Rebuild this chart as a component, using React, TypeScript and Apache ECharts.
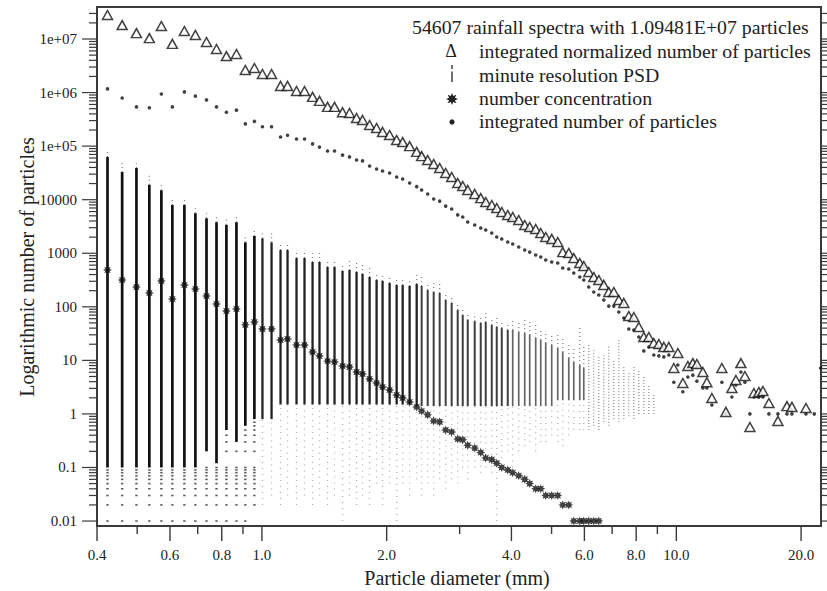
import React, { useEffect, useRef } from "react";
import * as echarts from "echarts";

// ---------- data ----------
const diameters = [
  0.424, 0.46, 0.498, 0.535, 0.572, 0.608, 0.65, 0.691, 0.735, 0.777,
  0.821, 0.868, 0.912, 0.959, 1.003, 1.055, 1.109, 1.153, 1.212, 1.267,
  1.325, 1.377, 1.44, 1.497, 1.565, 1.627, 1.692, 1.749, 1.819, 1.891,
  1.955, 2.033, 2.114, 2.186, 2.272, 2.363, 2.429, 2.512, 2.597, 2.685,
  2.776, 2.87, 2.968, 3.052, 3.138, 3.262, 3.373, 3.468, 3.586, 3.687,
  3.791, 3.919, 4.029, 4.166, 4.307, 4.428, 4.578, 4.708, 4.84, 5.004,
  5.174, 5.32, 5.501, 5.656, 5.848, 5.979, 6.148, 6.321, 6.5, 6.683,
  6.871, 7.065, 7.264, 7.469, 7.679, 7.896, 8.118, 8.347, 8.583, 8.824,
  9.073, 9.329, 9.592, 9.862, 10.084, 10.368, 10.661, 10.961, 11.208, 11.588,
  11.849, 12.183, 12.879, 13.169, 13.616, 13.922, 14.314, 14.636, 15.049, 15.388,
  15.821, 16.177, 16.726, 17.585, 18.488, 19.008, 20.548, 21.52, 22.3,
];

// triangles: integrated normalized number of particles
const integratedNormalized = [
  2.81e7, 1.82e7, 1.29e7, 1.04e7, 1.75e7, 8.1e6, 1.41e7, 1.19e7, 8.8e6, 6.5e6,
  4.8e6, 5.25e6, 2.64e6, 2.88e6, 2.22e6, 2.22e6, 1.33e6, 1.33e6, 1.07e6, 1.07e6,
  8.3e5, 7.0e5, 5.4e5, 5.4e5, 4.3e5, 4.16e5, 3.35e5, 3.08e5, 2.48e5, 2.18e5,
  1.84e5, 1.61e5, 1.3e5, 1.19e5, 1.0e5, 7.8e4, 6.5e4, 5.5e4, 4.64e4, 3.9e4,
  3.15e4, 2.65e4, 2.05e4, 1.8e4, 1.52e4, 1.28e4, 1.07e4, 9060, 7960, 7000,
  5890, 5180, 4750, 4180, 3370, 3090, 2840, 2390, 2010, 1850,
  1620, 1050, 1010, 815, 658, 578, 447, 360, 317, 256,
  189, 189, 134, 118, 67.3, 64.5, 42, 27.3, 27.3, 21.1,
  20.2, 17.8, 17.8, 7.2, 13.7, 3.78, 7.85, 8.9, 8.55, 6.07,
  3.9, 1.98, 7.2, 1.09, 3.05, 4.3, 8.9, 5.1, 0.57, 2.46,
  2.57, 2.68, 1.6, 0.74, 1.4, 1.35, 1.29, null, null,
];

// small dots: integrated number of particles
const integratedNumber = [
  1.17e6, 7.9e5, 5.4e5, 5.2e5, 9.4e5, 5.4e5, 1.03e6, 8.6e5, 7.3e5, 5.4e5,
  4.3e5, 4.7e5, 2.6e5, 2.9e5, 2.3e5, 2.3e5, 1.48e5, 1.6e5, 1.36e5, 1.36e5,
  1.1e5, 9.6e4, 8.1e4, 8.1e4, 6.8e4, 6.3e4, 5.5e4, 5.3e4, 4.26e4, 3.74e4,
  3.43e4, 3.15e4, 2.65e4, 2.43e4, 2.05e4, 1.75e4, 1.52e4, 1.28e4, 1.03e4, 9400,
  7600, 6700, 5200, 4750, 3830, 3370, 2960, 2720, 2390, 2010,
  1850, 1620, 1490, 1310, 1150, 1050, 927, 851, 748, 687,
  658, 530, 508, 428, 360, 316, 234, 189, 166, 134,
  103, 103, 80, 61.8, 38.5, 36.9, 27.3, 15, 17.8, 12.6,
  12.1, 11.6, 12.6, 3.9, 8.2, 2.6, 4.9, 5.3, 4.1, 3.05,
  3.05, 1.47, 3.9, 1, 2.07, 3.47, 6.07, 3.9, 1, 2.07,
  2.07, 2.07, 1, 1, 1, 1, 1, 1, 7.2,
];

// asterisks: number concentration
const numberConcentration = [
  487, 316, 234, 181, 303, 140, 255, 215, 159, 113,
  83.5, 91, 46, 52, 38.5, 38.5, 24, 25, 19.4, 19.4,
  14.3, 12.1, 9.7, 9.3, 7.85, 7.5, 6.07, 5.56, 4.49, 3.78,
  3.18, 2.8, 2.26, 1.98, 1.67, 1.35, 1.13, 0.96, 0.74, 0.71,
  0.5, 0.46, 0.34, 0.33, 0.26, 0.23, 0.19, 0.15, 0.14, 0.12,
  0.1, 0.09, 0.08, 0.07, 0.06, 0.05, 0.04, 0.04, 0.03, 0.03,
  0.03, 0.02, 0.02, 0.01, 0.01, 0.01, 0.01, 0.01, 0.01,
];

// minute resolution PSD: extent of the point clouds per size class
const psdMax = [
  8.8e4, 5.5e4, 4.8e4, 3.1e4, 1.9e4, 1.12e4, 1.07e4, 7000, 5600, 4750,
  4500, 5200, 2100, 2800, 2600, 2400, 1600, 1600, 1150, 1150,
  1000, 1050, 748, 748, 658, 748, 658, 603, 530, 447,
  428, 393, 360, 360, 345, 393, 360, 290, 278, 278,
  189, 166, 118, 95, 80, 77, 70, 77, 64.5, 61.8,
  56.7, 52, 56.7, 49.9, 64.5, 52, 45.7, 36.9, 33.9, 32.4,
  29.8, 26.2, 19.4, 17, 42, 17.8, 19.4, 15.6, 12.6, 12.6,
  19.4, 10.2, 24, 8.2, 6.07, 8.2, 6.6, 5.3, 3.47, 2.26,
];
const psdDenseTop = [
  6.3e4, 3.3e4, 3.9e4, 1.9e4, 1.5e4, 8000, 8000, 5600, 4500, 3800,
  3400, 3800, 1600, 2100, 1900, 1600, 1150, 1150, 815, 815,
  687, 687, 553, 553, 466, 487, 447, 410, 360, 316,
  303, 278, 255, 255, 245, 267, 245, 206, 189, 181,
  134, 118, 87, 70, 57, 54, 50, 52, 45.7, 42,
  40, 36.9, 36.9, 33.9, 32.4, 29.8, 26.2, 24, 21.1, 19.4,
  17, 14.3, 11.1, 9.3, 8.2, 7.2,
];
const psdDenseBottom = [
  0.1, 0.1, 0.1, 0.1, 0.1, 0.1, 0.1, 0.1, 0.2, 0.12,
  0.5, 0.3, 0.6, 0.8, 0.8, 0.8, 1.5, 1.5, 1.5, 1.5,
  1.5, 1.5, 1.5, 1.5, 1.5, 1.5, 1.5, 1.5, 1.5, 1.5,
  1.5, 1.5, 1.5, 1.5, 1.5, 1.4, 1.4, 1.4, 1.4, 1.4,
  1.4, 1.4, 1.4, 1.4, 1.4, 1.4, 1.4, 1.4, 1.4, 1.4,
  1.4, 1.4, 1.4, 1.4, 1.4, 1.4, 1.4, 1.4, 1.4, 1.4,
  1.8, 1.8, 1.8, 1.8, 1.8, 1.8,
];
const psdMin = [
  0.01, 0.01, 0.01, 0.01, 0.01, 0.01, 0.01, 0.01, 0.01, 0.01,
  0.01, 0.01, 0.01, 0.02, 0.02, 0.03, 0.02, 0.03, 0.02, 0.03,
  0.02, 0.03, 0.02, 0.03, 0.01, 0.03, 0.02, 0.03, 0.02, 0.05,
  0.02, 0.05, 0.01, 0.05, 0.03, 0.06, 0.03, 0.05, 0.03, 0.06,
  0.04, 0.06, 0.05, 0.1, 0.06, 0.1, 0.08, 0.1, 0.08, 0.01,
  0.15, 0.2, 0.1, 0.2, 0.25, 0.3, 0.2, 0.3, 0.3, 0.4,
  0.3, 0.25, 0.4, 0.5, 0.5, 0.5, 0.5, 0.6, 0.5, 0.7,
  0.6, 0.8, 0.7, 0.8, 0.9, 0.8, 1, 1, 1, 1,
];
// quantisation levels of the per-minute values (lowest values)
const quantLevels = [0.01, 0.02, 0.03, 0.04, 0.05, 0.06, 0.07, 0.08, 0.09, 0.1, 0.2, 0.3, 0.4, 0.5, 0.6, 0.7, 0.8, 0.9];

const xMajorTicks = [0.4, 0.6, 0.8, 1, 2, 4, 6, 8, 10, 20];
const xMajorLabels = ["0.4", "0.6", "0.8", "1.0", "2.0", "4.0", "6.0", "8.0", "10.0", "20.0"];
const xMinorTicks = [0.5, 0.7, 0.9, 3, 5, 7, 9];
const yMajorTicks = [0.01, 0.1, 1, 10, 100, 1000, 10000, 1e5, 1e6, 1e7];
const yMajorLabels = ["0.01", "0.1", "1", "10", "100", "1000", "10000", "1e+05", "1e+06", "1e+07"];
const yMinorMultipliers = [2, 3, 4, 5, 6, 7, 8, 9];

const titleText = "54607 rainfall spectra with 1.09481E+07 particles";
const legendLabels = [
  "integrated normalized number of particles",
  "minute resolution PSD",
  "number concentration",
  "integrated number of particles",
];

// ---------- layout / style ----------
const X_MIN = 0.4;
const X_MAX = 22.34;
const Y_MIN = 0.00808;
const Y_MAX = 3.96e7;
const SERIF = '"Liberation Serif", "DejaVu Serif", serif';
const INK = "#222";
const AXIS = "#3a3a3a";
const STAR =
  "path://M20,10 L15.08,12.1 L17.07,17.07 L12.1,15.08 L10,20 L7.9,15.08 L2.93,17.07 L4.92,12.1 L0,10 L4.92,7.9 L2.93,2.93 L7.9,4.92 L10,0 L12.1,4.92 L17.07,2.93 L15.08,7.9 Z";

function has(v: any) {
  return v !== null && v !== undefined && !isNaN(v);
}

function buildOption() {
  const triData: any[] = [];
  const dotData: any[] = [];
  const concData: any[] = [];
  const psdData: any[] = [];
  const quantData: any[] = [];
  diameters.forEach((d, i) => {
    if (has(integratedNormalized[i])) triData.push([d, integratedNormalized[i]]);
    if (has(integratedNumber[i])) dotData.push([d, integratedNumber[i]]);
    if (has(numberConcentration[i])) concData.push([d, numberConcentration[i]]);
    if (has(psdMax[i])) {
      psdData.push([
        d,
        has(psdMin[i]) ? psdMin[i] : "-",
        has(psdDenseBottom[i]) ? psdDenseBottom[i] : "-",
        has(psdDenseTop[i]) ? psdDenseTop[i] : "-",
        psdMax[i],
      ]);
    }
    if (d < 1 && has(psdDenseBottom[i])) {
      quantLevels.forEach((q) => {
        if (q >= psdMin[i] && q < psdDenseBottom[i]) quantData.push([d, q]);
      });
    }
  });

  const yTickRows: any[] = [];
  yMajorTicks.forEach((v, i) => yTickRows.push([X_MIN, v, 1, i]));
  yMajorTicks.forEach((v) =>
    yMinorMultipliers.forEach((m) => {
      const t = v * m;
      if (t < Y_MAX) yTickRows.push([X_MIN, t, 0, -1]);
    })
  );
  const xTickRows: any[] = [];
  xMajorTicks.forEach((v, i) => xTickRows.push([v, Y_MIN, 1, i]));
  xMinorTicks.forEach((v) => xTickRows.push([v, Y_MIN, 0, -1]));

  const num = (v: any) => (v === "-" || v === null || v === undefined ? NaN : Number(v));

  return {
    animation: false,
    backgroundColor: "#ffffff",
    grid: {
      left: 97,
      right: 6,
      top: 7,
      bottom: 65,
      show: true,
      borderColor: AXIS,
      borderWidth: 2,
      backgroundColor: "transparent",
    },
    xAxis: {
      type: "log",
      logBase: 10,
      min: X_MIN,
      max: X_MAX,
      axisLine: { show: false },
      axisTick: { show: false },
      axisLabel: { show: false },
      splitLine: { show: false },
    },
    yAxis: {
      type: "log",
      logBase: 10,
      min: Y_MIN,
      max: Y_MAX,
      axisLine: { show: false },
      axisTick: { show: false },
      axisLabel: { show: false },
      splitLine: { show: false },
    },
    series: [
      {
        name: "minute resolution PSD",
        type: "custom",
        clip: true,
        z: 1,
        data: psdData,
        encode: { x: 0, y: [1, 2, 3, 4] },
        renderItem: (params: any, api: any) => {
          const d = api.value(0);
          const vals = [1, 2, 3, 4].map((k) => num(api.value(k)));
          const pt = vals.map((v) => (isNaN(v) ? null : api.coord([d, v])));
          const [pMin, pLow, pHigh, pMax] = pt;
          let w = 2.7;
          let col = "#111";
          if (d >= 1 && d < 2.4) {
            w = 2.3;
            col = "#222";
          } else if (d >= 2.4 && d < 4) {
            w = 2.0;
            col = "#3e3e3e";
          } else if (d >= 4) {
            w = 1.7;
            col = "#666";
          }
          const children: any[] = [];
          const dotted = (a: any, b: any, c: string, op: number, dash: number[]) => ({
            type: "line",
            shape: { x1: a[0], y1: a[1], x2: b[0], y2: b[1] },
            style: { stroke: c, lineWidth: 1.2, lineDash: dash, opacity: op },
          });
          if (pLow && pHigh) {
            if (d >= 1 && pMin) children.push(dotted(pMin, pLow, "#444", 0.45, [1, 5]));
            children.push({
              type: "line",
              shape: { x1: pLow[0], y1: pLow[1], x2: pHigh[0], y2: pHigh[1] },
              style: { stroke: col, lineWidth: w },
            });
            if (pMax) children.push(dotted(pHigh, pMax, "#444", 0.7, [1, 3]));
          } else if (pMin && pMax) {
            children.push(dotted(pMin, pMax, "#555", 0.7, [1, 2]));
          }
          return { type: "group", children };
        },
      },
      {
        name: "psd low values",
        type: "scatter",
        z: 2,
        symbol: "rect",
        symbolSize: [2.4, 1.6],
        itemStyle: { color: "#333" },
        data: quantData,
      },
      {
        name: "integrated number of particles",
        type: "scatter",
        z: 3,
        symbol: "circle",
        symbolSize: 3.6,
        itemStyle: { color: "#111" },
        data: dotData,
      },
      {
        name: "integrated normalized number of particles",
        type: "scatter",
        z: 4,
        symbol: "triangle",
        symbolSize: [10, 9],
        itemStyle: { color: "#ffffff", borderColor: "#111", borderWidth: 1.5 },
        data: triData,
      },
      {
        name: "number concentration",
        type: "scatter",
        z: 5,
        symbol: STAR,
        symbolSize: 9,
        itemStyle: { color: "#111" },
        data: concData,
      },
      {
        name: "y ticks",
        type: "custom",
        clip: false,
        silent: true,
        z: 6,
        data: yTickRows,
        encode: { x: 0, y: 1 },
        renderItem: (params: any, api: any) => {
          const v = api.value(1);
          const major = api.value(2) === 1;
          const idx = api.value(3);
          const pl = api.coord([X_MIN, v]);
          const pr = api.coord([X_MAX, v]);
          const len = major ? 14 : 7;
          const st = { stroke: AXIS, lineWidth: 1.2 };
          const children: any[] = [
            { type: "line", shape: { x1: pl[0] - 1 - len, y1: pl[1], x2: pl[0], y2: pl[1] }, style: st },
            { type: "line", shape: { x1: pr[0], y1: pr[1], x2: pr[0] + 1 + len, y2: pr[1] }, style: st },
          ];
          if (major) {
            children.push({
              type: "text",
              style: {
                text: yMajorLabels[idx],
                x: pl[0] - 20,
                y: pl[1],
                align: "right",
                verticalAlign: "middle",
                font: `15px ${SERIF}`,
                fill: INK,
              },
            });
          }
          return { type: "group", children };
        },
      },
      {
        name: "x ticks",
        type: "custom",
        clip: false,
        silent: true,
        z: 6,
        data: xTickRows,
        encode: { x: 0, y: 1 },
        renderItem: (params: any, api: any) => {
          const v = api.value(0);
          const major = api.value(2) === 1;
          const idx = api.value(3);
          const pb = api.coord([v, Y_MIN]);
          const len = major ? 14 : 7;
          const children: any[] = [
            {
              type: "line",
              shape: { x1: pb[0], y1: pb[1], x2: pb[0], y2: pb[1] + 1 + len },
              style: { stroke: AXIS, lineWidth: 1.4 },
            },
          ];
          if (major) {
            children.push({
              type: "text",
              style: {
                text: xMajorLabels[idx],
                x: pb[0],
                y: pb[1] + 29,
                align: "center",
                verticalAlign: "middle",
                font: `15px ${SERIF}`,
                fill: INK,
              },
            });
          }
          return { type: "group", children };
        },
      },
    ],
    graphic: buildGraphic(),
  };
}

function buildGraphic() {
  const font = `19.8px ${SERIF}`;
  const rowsY = [51, 75, 98, 121];
  const starPts: number[][] = [];
  for (let k = 0; k < 16; k++) {
    const a = (k * Math.PI) / 8;
    const r = k % 2 === 0 ? 6 : 3.2;
    starPts.push([452 + r * Math.cos(a), 99 + r * Math.sin(a)]);
  }
  const els: any[] = [
    {
      type: "text",
      x: 412,
      y: 27,
      style: { text: titleText, font, fill: INK, align: "left", verticalAlign: "middle" },
    },
    {
      type: "text",
      x: 451,
      y: rowsY[0],
      style: { text: "Δ", font: `18px ${SERIF}`, fill: INK, align: "center", verticalAlign: "middle" },
    },
    { type: "line", shape: { x1: 452, y1: 65, x2: 452, y2: 69 }, style: { stroke: INK, lineWidth: 1.3 } },
    { type: "line", shape: { x1: 452, y1: 71.5, x2: 452, y2: 82 }, style: { stroke: INK, lineWidth: 1.3 } },
    { type: "polygon", shape: { points: starPts }, style: { fill: INK } },
    { type: "circle", shape: { cx: 452, cy: 122, r: 2.6 }, style: { fill: INK } },
    {
      type: "text",
      x: 457,
      y: 578,
      style: {
        text: "Particle diameter (mm)",
        font: `20px ${SERIF}`,
        fill: INK,
        align: "center",
        verticalAlign: "middle",
      },
    },
    {
      type: "text",
      x: 27,
      y: 267,
      rotation: Math.PI / 2,
      style: {
        text: "Logarithmic number of particles",
        font: `20px ${SERIF}`,
        fill: INK,
        align: "center",
        verticalAlign: "middle",
      },
    },
  ];
  legendLabels.forEach((t, i) => {
    els.push({
      type: "text",
      x: 479,
      y: rowsY[i],
      style: { text: t, font, fill: INK, align: "left", verticalAlign: "middle" },
    });
  });
  return els;
}

export default function App() {
  const ref = useRef<HTMLDivElement>(null);
  useEffect(() => {
    if (!ref.current) return;
    const chart = echarts.init(ref.current, null, { renderer: "svg" });
    chart.setOption(buildOption() as any);
    return () => {
      chart.dispose();
    };
  }, []);
  return (
    <div
      ref={ref}
      style={{ position: "fixed", left: 0, top: 0, width: 827, height: 591, background: "#fff" }}
    />
  );
}
